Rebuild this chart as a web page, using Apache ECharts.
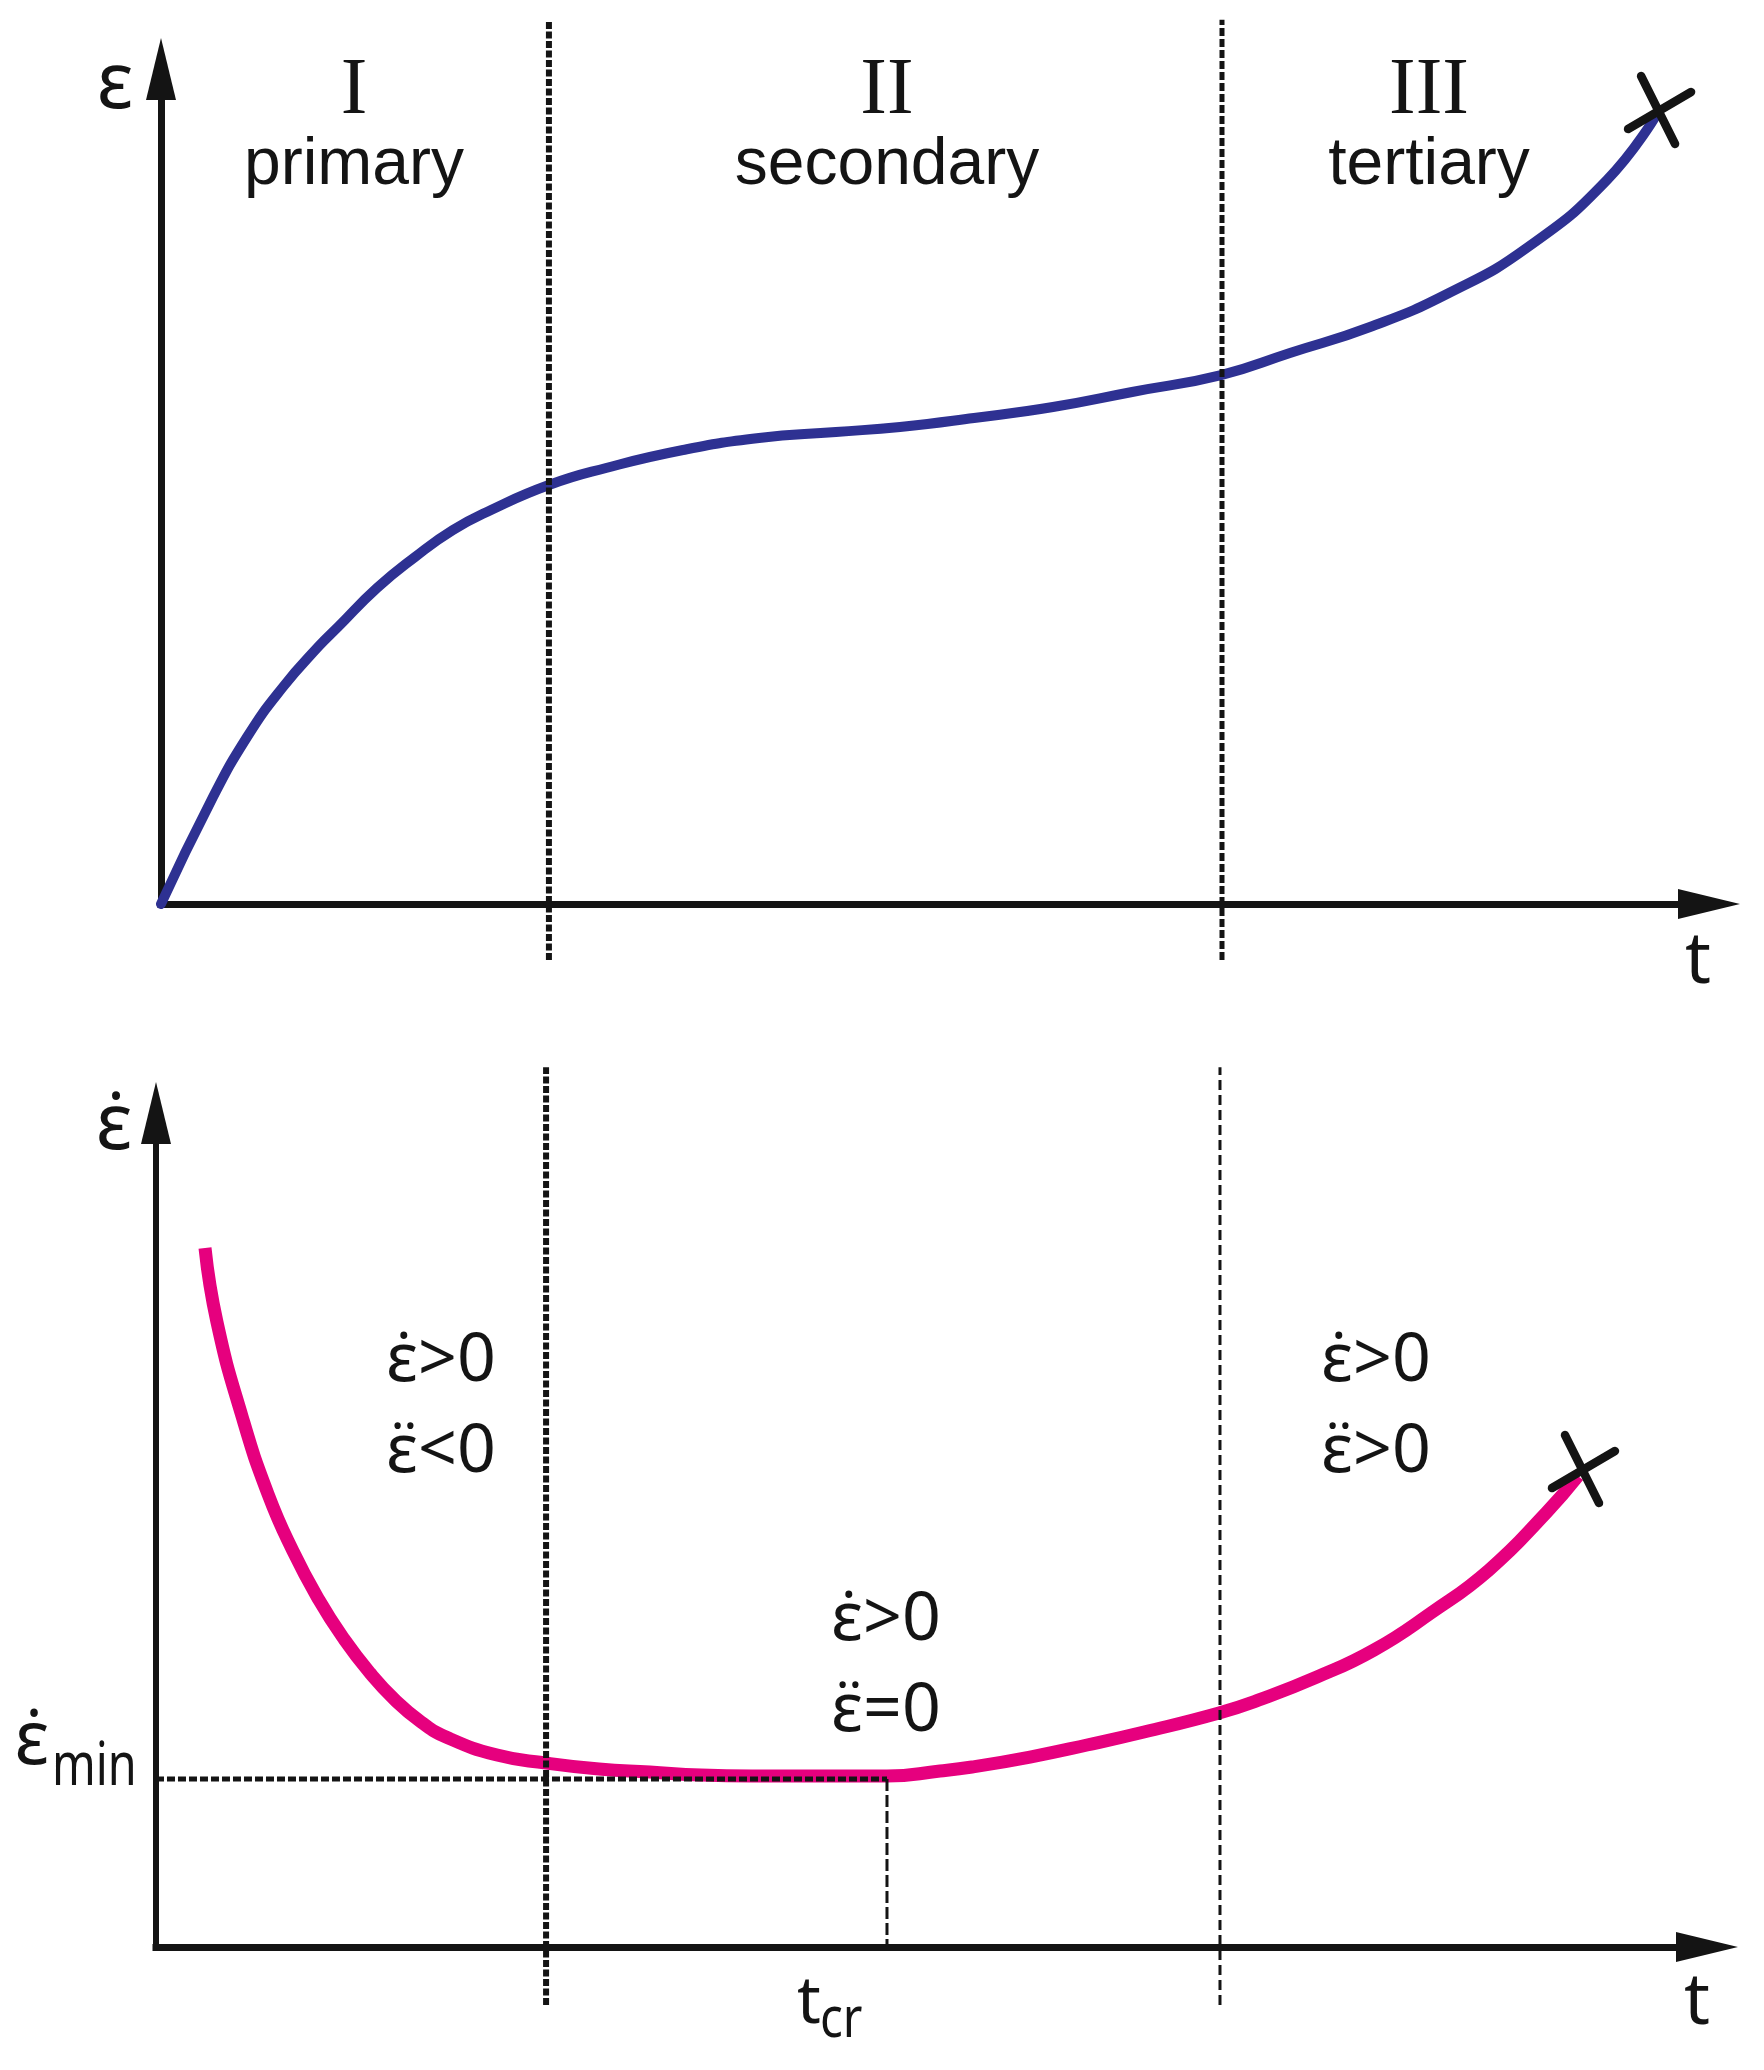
<!DOCTYPE html>
<html>
<head>
<meta charset="utf-8">
<style>
html,body{margin:0;padding:0;background:#ffffff;}
#chart{width:1764px;height:2070px;}
</style>
<script src="https://cdn.jsdelivr.net/npm/echarts@6/dist/echarts.min.js"></script>
</head>
<body>
<div id="chart"></div>
<script>
// ---------- DATA (arbitrary units 0..100) ----------
// creep strain ε vs time t (upper panel)
const strainCurve = [
  [0,0],[3.23,12.34],[5.56,20.00],[7.88,25.99],[10.21,30.90],[11.43,33.17],
  [13.95,37.84],[16.41,41.56],[18.86,44.79],[21.32,47.19],[25.06,50.18],
  [28.75,52.22],[33.72,54.37],[38.63,55.81],[43.60,56.53],[47.74,57.13],
  [52.52,58.20],[57.62,59.52],[62.73,61.32],[68.48,63.35],[72.93,65.99],
  [78.10,69.10],[83.20,73.17],[88.31,78.68],[93.41,86.71],[96.64,94.61]
];
// creep strain rate ε̇ vs time t (lower panel)
const rateCurve = [
  [3.16,83.81],[3.93,74.94],[5.54,63.67],[7.22,54.32],[8.83,47.48],[10.51,41.61],
  [12.12,36.93],[13.80,32.85],[15.41,29.62],[17.09,26.98],[18.70,25.18],
  [21.99,23.02],[25.15,22.06],[28.56,21.34],[31.85,20.98],[35.14,20.62],
  [38.43,20.50],[41.71,20.50],[47.13,20.50],[50.55,21.10],[52.61,21.58],
  [56.35,22.78],[60.03,24.22],[63.70,25.78],[68.54,28.06],[71.11,29.62],
  [74.85,32.37],[78.53,35.61],[82.20,40.05],[85.94,45.20],[89.62,52.04],
  [91.68,56.47]
];
const stageBoundsTop = [25.06, 68.54];
const stageBoundsBottom = [25.15, 68.60];
const ruptureTop = [96.71, 94.97];
const ruptureBottom = [91.94, 57.19];
const tCr = 47.13;
const rateMin = 20.14;
const guideSpanTop = [-6.7, 105.9];
const guideSpanBottom = [-6.95, 105.5];
const rateMinStartT = -0.71;

const stageNumerals = ['I', 'II', 'III'];
const stageNames = ['primary', 'secondary', 'tertiary'];
const rateConditions = [
  ['ε\u0307>0', 'ε\u0308<0'],
  ['ε\u0307>0', 'ε\u0308=0'],
  ['ε\u0307>0', 'ε\u0308>0']
];
const axisNames = { strain: 'ε', rate: 'ε\u0307', time: 't', rateMin: ['ε\u0307', 'min'], tcr: ['t', 'cr'] };

// ---------- STYLE ----------
const INK = '#141414';
const BLUE = '#2E3192';
const PINK = '#E6007E';
const SANS = '"Liberation Sans", Arial, sans-serif';
const SERIF = '"Liberation Serif", "Times New Roman", serif';
const MATH = '"Noto Sans", "Open Sans", sans-serif';

function valueAxis(gridIndex, width) {
  return {
    type: 'value', gridIndex: gridIndex, min: 0, max: 100,
    axisLine: {
      show: true, onZero: false,
      symbol: ['none', 'triangle'], symbolSize: [30, 62],
      lineStyle: { color: INK, width: width, cap: 'square' }
    },
    axisTick: { show: false }, axisLabel: { show: false },
    splitLine: { show: false }, splitArea: { show: false }
  };
}

function guide(gi, data, width, dash) {
  return {
    type: 'line', xAxisIndex: gi, yAxisIndex: gi, data: data,
    showSymbol: false, clip: false, silent: true, z: 6,
    lineStyle: { color: INK, width: width, type: dash }
  };
}

function crossItem(params, api) {
  const c = api.coord([api.value(0), api.value(1)]);
  const st = { stroke: INK, lineWidth: 8.5, lineCap: 'round' };
  return {
    type: 'group',
    children: [
      { type: 'line', shape: { x1: c[0] - 17, y1: c[1] - 35, x2: c[0] + 17, y2: c[1] + 33 }, style: st },
      { type: 'line', shape: { x1: c[0] - 30, y1: c[1] + 18, x2: c[0] + 33, y2: c[1] - 19 }, style: st }
    ]
  };
}

function txt(text, x, y, size, family, align, scaleX) {
  const el = {
    type: 'text', x: x, y: y, z: 20, silent: true,
    style: {
      text: text, fontSize: size, fontFamily: family, fill: INK,
      align: align || 'center', verticalAlign: 'middle',
      textAlign: align || 'center', textVerticalAlign: 'middle'
    }
  };
  if (scaleX) { el.scaleX = scaleX; }
  return el;
}

const series = [
  // upper panel
  {
    type: 'line', xAxisIndex: 0, yAxisIndex: 0, data: strainCurve,
    smooth: true, showSymbol: false, silent: true, z: 3,
    lineStyle: { color: BLUE, width: 10, cap: 'round' }
  },
  guide(0, [[stageBoundsTop[0], guideSpanTop[0]], [stageBoundsTop[0], guideSpanTop[1]]], 6, [7, 2.5]),
  guide(0, [[stageBoundsTop[1], guideSpanTop[0]], [stageBoundsTop[1], guideSpanTop[1]]], 5, [8, 3]),
  { type: 'custom', xAxisIndex: 0, yAxisIndex: 0, data: [ruptureTop], renderItem: crossItem, z: 7, silent: true },
  // lower panel
  {
    type: 'line', xAxisIndex: 1, yAxisIndex: 1, data: rateCurve,
    smooth: true, showSymbol: false, silent: true, z: 3,
    lineStyle: { color: PINK, width: 13, cap: 'butt' }
  },
  guide(1, [[stageBoundsBottom[0], guideSpanBottom[0]], [stageBoundsBottom[0], guideSpanBottom[1]]], 6, [7, 2.5]),
  guide(1, [[stageBoundsBottom[1], guideSpanBottom[0]], [stageBoundsBottom[1], guideSpanBottom[1]]], 3, [10, 5]),
  guide(1, [[rateMinStartT, rateMin], [tCr, rateMin]], 5, [8, 3]),
  guide(1, [[tCr, rateMin], [tCr, 0]], 3, [12, 4]),
  { type: 'custom', xAxisIndex: 1, yAxisIndex: 1, data: [ruptureBottom], renderItem: crossItem, z: 7, silent: true }
];

const stageX = [354, 887, 1429];
const condX = [441, 886, 1376];
const condY = [[1362, 1453], [1621, 1712], [1362, 1453]];

const graphic = [];
graphic.push(txt(axisNames.strain, 115, 86, 78, MATH));
stageNumerals.forEach((s, i) => graphic.push(txt(s, stageX[i], 92, 80, SERIF)));
stageNames.forEach((s, i) => graphic.push(txt(s, stageX[i], 166, 66, SANS)));
graphic.push(txt(axisNames.time, 1698, 962, 72, MATH));
graphic.push(txt(axisNames.rate, 114, 1127, 78, MATH));
rateConditions.forEach((pair, i) => {
  graphic.push(txt(pair[0], condX[i], condY[i][0], 68, MATH));
  graphic.push(txt(pair[1], condX[i], condY[i][1], 68, MATH));
});
graphic.push(txt(axisNames.rateMin[0], 32, 1743, 74, MATH));
graphic.push(txt(axisNames.rateMin[1], 52, 1768, 60, MATH, 'left', 0.78));
graphic.push(txt(axisNames.tcr[0], 797, 2004, 66, MATH, 'left'));
graphic.push(txt(axisNames.tcr[1], 820, 2021, 56, MATH, 'left', 0.85));
graphic.push(txt(axisNames.time, 1697, 2003, 72, MATH));

const option = {
  animation: false,
  backgroundColor: '#ffffff',
  grid: [
    { left: 161, right: 55, top: 69, bottom: 1166, outerBoundsMode: 'none', containLabel: false },
    { left: 156, right: 57, top: 1113, bottom: 123, outerBoundsMode: 'none', containLabel: false }
  ],
  xAxis: [valueAxis(0, 7), valueAxis(1, 7)],
  yAxis: [valueAxis(0, 7), valueAxis(1, 6)],
  series: series,
  graphic: graphic
};

const chart = echarts.init(document.getElementById('chart'), null, { renderer: 'canvas', width: 1764, height: 2070 });
chart.setOption(option);
</script>
</body>
</html>
